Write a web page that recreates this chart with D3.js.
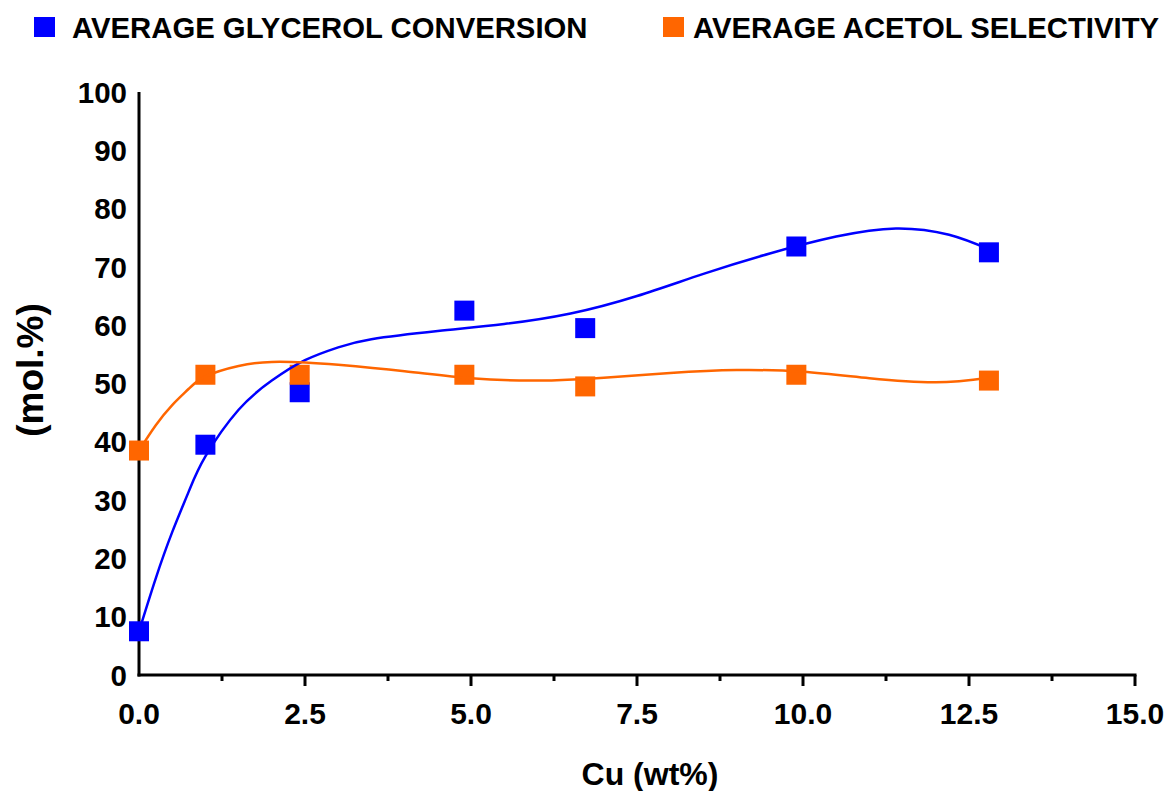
<!DOCTYPE html>
<html>
<head>
<meta charset="utf-8">
<script src="https://cdn.jsdelivr.net/npm/d3@7"></script>
<style>
  body { margin: 0; background: #fff; }
  text { font-family: "Liberation Sans", Arial, sans-serif; font-weight: bold; fill: #000; }
</style>
</head>
<body>
<svg id="chart" width="1169" height="791"></svg>
<script>
// measured points
var cuLoading = [0, 1.0, 2.42, 4.9, 6.72, 9.9, 12.8];
var glycerolConversion = [7.5, 39.5, 48.5, 62.5, 59.5, 73.5, 72.5];
var acetolSelectivity = [38.5, 51.5, 51.5, 51.5, 49.5, 51.5, 50.5];

// fitted curves
var glycerolFitX = [0, 0.25, 0.5, 0.75, 1, 1.5, 2, 2.5, 3, 3.5, 4.5, 5.5, 6.5, 7.5, 8.5, 9.5, 10.5, 11.4, 12.2, 12.8];
var glycerolFitY = [7.5, 16.5, 24.5, 31.5, 37.5, 45.5, 50.5, 54, 56.2, 57.6, 59, 60.2, 62, 65, 68.8, 72.3, 75.2, 76.6, 75.5, 73];
var acetolFitX = [0, 0.25, 0.5, 0.75, 1, 1.5, 2, 2.5, 3, 4, 5, 6, 7, 8, 9, 10, 11, 12, 12.8];
var acetolFitY = [38.5, 42.8, 46.3, 49.1, 51.2, 53, 53.7, 53.6, 53.2, 52.1, 50.9, 50.5, 51, 51.8, 52.3, 52, 50.9, 50.2, 51];

var xTicks = [0, 2.5, 5, 7.5, 10, 12.5, 15];
var xMinorTicks = [1.25, 3.75, 6.25, 8.75, 11.25, 13.75];
var yTicks = [0, 10, 20, 30, 40, 50, 60, 70, 80, 90, 100];

var seriesNames = ["AVERAGE GLYCEROL CONVERSION", "AVERAGE ACETOL SELECTIVITY"];
var seriesColors = ["#0000ff", "#ff6600"];

var svg = d3.select("#chart");
var x = d3.scaleLinear().domain([0, 15]).range([139, 1135]);
var y = d3.scaleLinear().domain([0, 100]).range([675, 92]);

// y axis: line + labels only
svg.append("line")
  .attr("x1", x(0)).attr("x2", x(0))
  .attr("y1", y(100)).attr("y2", y(0) + 1.5)
  .attr("stroke", "#000").attr("stroke-width", 3);
svg.selectAll(".ytick")
  .data(yTicks)
  .enter()
  .append("text")
    .attr("class", "ytick")
    .attr("x", 127)
    .attr("y", function(d) { return y(d); })
    .attr("dy", "0.36em")
    .attr("text-anchor", "end")
    .style("font-size", "29.5px")
    .text(function(d) { return d; });

// x axis
svg.append("line")
  .attr("x1", x(0) - 1.5).attr("x2", x(15) + 1.5)
  .attr("y1", y(0)).attr("y2", y(0))
  .attr("stroke", "#000").attr("stroke-width", 3);
svg.selectAll(".xmajor")
  .data(xTicks.slice(1))
  .enter()
  .append("line")
    .attr("x1", function(d) { return x(d); })
    .attr("x2", function(d) { return x(d); })
    .attr("y1", y(0)).attr("y2", y(0) + 11)
    .attr("stroke", "#000").attr("stroke-width", 3);
svg.selectAll(".xminor")
  .data(xMinorTicks)
  .enter()
  .append("line")
    .attr("x1", function(d) { return x(d); })
    .attr("x2", function(d) { return x(d); })
    .attr("y1", y(0)).attr("y2", y(0) + 6)
    .attr("stroke", "#000").attr("stroke-width", 3);
svg.selectAll(".xtick")
  .data(xTicks)
  .enter()
  .append("text")
    .attr("class", "xtick")
    .attr("x", function(d) { return x(d); })
    .attr("y", 724)
    .attr("text-anchor", "middle")
    .style("font-size", "30px")
    .text(function(d) { return d3.format(".1f")(d); });

// axis titles
svg.append("text")
  .attr("x", 650).attr("y", 785)
  .attr("text-anchor", "middle")
  .style("font-size", "32px")
  .text("Cu (wt%)");
svg.append("text")
  .attr("transform", "translate(43,370) rotate(-90)")
  .attr("text-anchor", "middle")
  .style("font-size", "37px")
  .text("(mol.%)");

// squares
var sq = 20;
[glycerolConversion, acetolSelectivity].forEach(function(values, s) {
  svg.selectAll(".pt" + s)
    .data(values)
    .enter()
    .append("rect")
      .attr("x", function(d, i) { return x(cuLoading[i]) - sq / 2; })
      .attr("y", function(d) { return y(d) - sq / 2; })
      .attr("width", sq).attr("height", sq)
      .attr("fill", seriesColors[s]);
});

// fit curves
var line = d3.line()
  .x(function(d) { return x(d[0]); })
  .y(function(d) { return y(d[1]); })
  .curve(d3.curveNatural);
svg.append("path")
  .datum(d3.zip(glycerolFitX, glycerolFitY))
  .attr("d", line)
  .attr("fill", "none").attr("stroke", seriesColors[0]).attr("stroke-width", 2.5);
svg.append("path")
  .datum(d3.zip(acetolFitX, acetolFitY))
  .attr("d", line)
  .attr("fill", "none").attr("stroke", seriesColors[1]).attr("stroke-width", 2.5);

// legend
var legendX = [34, 663];
var legendTextX = [72, 693];
seriesNames.forEach(function(name, i) {
  svg.append("rect")
    .attr("x", legendX[i]).attr("y", 17)
    .attr("width", 21).attr("height", 20)
    .attr("fill", seriesColors[i]);
  svg.append("text")
    .attr("x", legendTextX[i]).attr("y", 38)
    .style("font-size", "29.3px")
    .text(name);
});
</script>
</body>
</html>
